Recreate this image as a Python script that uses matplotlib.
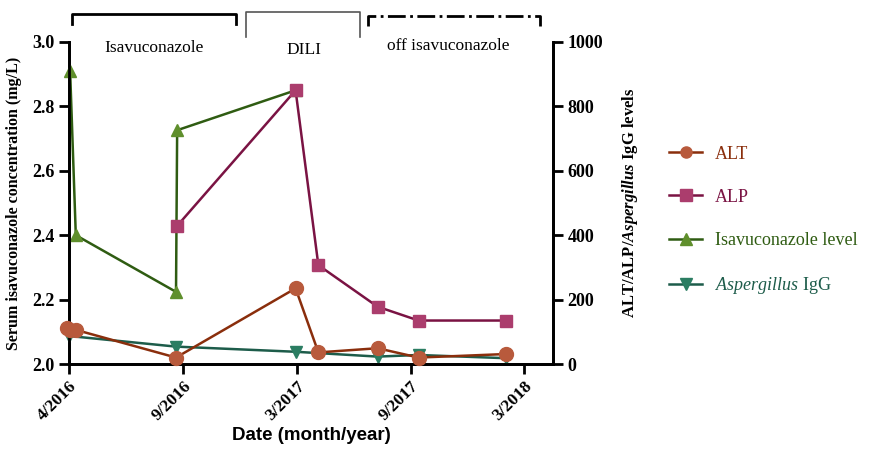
import matplotlib
matplotlib.use("Agg")
import matplotlib.pyplot as plt
import matplotlib.transforms as mtransforms

plt.rcParams["mathtext.fontset"] = "custom"
plt.rcParams["mathtext.rm"] = "Liberation Serif"
plt.rcParams["mathtext.bf"] = "Liberation Serif:bold"
plt.rcParams["mathtext.it"] = "Liberation Serif:italic"
plt.rcParams["mathtext.bfit"] = "Liberation Serif:italic:bold"

# x positions in tick units (0 = 4/2016, 1 = 9/2016, 2 = 3/2017, 3 = 9/2017, 4 = 3/2018)
tick_labels = ["4/2016", "9/2016", "3/2017", "9/2017", "3/2018"]

isa_x = [0.01, 0.06, 0.94, 0.95, 1.99]
isa_y = [2.91, 2.40, 2.224, 2.726, 2.85]

alp_x = [0.95, 1.99, 2.19, 2.71, 3.07, 3.84]
alp_y = [429, 850, 307, 178, 135, 135]

alt_x = [-0.02, 0.01, 0.06, 0.94, 1.99, 2.19, 2.71, 3.07, 3.84]
alt_y = [113, 107, 106, 20, 235, 36, 49, 20, 31]

igg_x = [0.0, 0.94, 1.99, 2.71, 3.07, 3.84]
igg_y = [87, 54, 38, 23, 28, 18]

serif = "Liberation Serif"

fig = plt.figure(figsize=(8.72, 4.49), dpi=100)
ax = fig.add_axes([0.0791, 0.1893, 0.555, 0.7172])
ax2 = ax.twinx()

ax.set_xlim(0, 4.25)
ax.set_ylim(2.0, 3.0)
ax2.set_ylim(0, 1000)

l_isa, = ax.plot(isa_x, isa_y, color="#2f5c12", lw=1.8, marker="^", ms=9,
                 mfc="#5f8f2c", mec="#5f8f2c", clip_on=False, zorder=3)
l_alp, = ax2.plot(alp_x, alp_y, color="#7a1343", lw=1.8, marker="s", ms=9,
                  mfc="#ab3d6d", mec="#ab3d6d", clip_on=False, zorder=3)
l_igg, = ax2.plot(igg_x, igg_y, color="#1d5c4a", lw=1.8, marker="v", ms=9,
                  mfc="#2b7d62", mec="#2b7d62", clip_on=False, zorder=2)
l_alt, = ax2.plot(alt_x, alt_y, color="#8a2e0c", lw=1.8, marker="o", ms=10,
                  mfc="#b85a3c", mec="#b85a3c", clip_on=False, zorder=4)

for a in (ax, ax2):
    a.spines["top"].set_visible(False)
    for s in a.spines.values():
        s.set_linewidth(2)

ax.set_xticks(range(5))
ax.set_xticklabels(tick_labels, rotation=45, ha="right", rotation_mode="anchor",
                   fontfamily=serif, fontweight="bold", fontsize=12.5)
ax.set_yticks([2.0, 2.2, 2.4, 2.6, 2.8, 3.0])
ax.set_yticklabels(["2.0", "2.2", "2.4", "2.6", "2.8", "3.0"],
                   fontfamily=serif, fontweight="bold", fontsize=13)
ax2.set_yticks([0, 200, 400, 600, 800, 1000])
ax2.set_yticklabels(["0", "200", "400", "600", "800", "1000"],
                    fontfamily=serif, fontweight="bold", fontsize=13)
ax.tick_params(width=2, length=7)
ax2.tick_params(width=2, length=7)

ax.set_ylabel("Serum isavuconazole concentration (mg/L)", fontfamily=serif,
              fontweight="bold", fontsize=11.5, labelpad=7)
ax2.set_ylabel(r"ALT/ALP/$\mathbfit{Aspergillus}$ IgG levels", fontfamily=serif,
               fontweight="bold", fontsize=12, labelpad=12)
ax.set_xlabel("Date (month/year)", fontfamily="Liberation Sans",
              fontweight="bold", fontsize=13.5, labelpad=2)

# period brackets above the plot
tr = mtransforms.blended_transform_factory(ax.transData, ax.transAxes)
ax.plot([0.026, 0.026, 1.47, 1.47], [1.056, 1.087, 1.087, 1.056], color="black",
        lw=2, transform=tr, clip_on=False)
ax.plot([1.556, 1.556, 2.558, 2.558], [1.016, 1.093, 1.093, 1.016], color="#555555",
        lw=1.2, transform=tr, clip_on=False)
ax.plot([2.63, 2.63, 4.14, 4.14], [1.05, 1.081, 1.081, 1.05], color="black",
        lw=2, ls="-.", transform=tr, clip_on=False)
ax.text(0.75, 0.981, "Isavuconazole", transform=tr, ha="center", va="center",
        fontfamily=serif, fontsize=12.5)
ax.text(2.06, 0.975, "DILI", transform=tr, ha="center", va="center",
        fontfamily=serif, fontsize=12.5)
ax.text(3.33, 0.988, "off isavuconazole", transform=tr, ha="center", va="center",
        fontfamily=serif, fontsize=12.5)

leg = fig.legend([l_alt, l_alp, l_isa, l_igg],
                 ["ALT", "ALP", "Isavuconazole level", r"$\mathit{Aspergillus}$ IgG"],
                 loc="upper left", bbox_to_anchor=(0.749, 0.712), frameon=False,
                 prop={"family": serif, "size": 13}, labelspacing=1.45,
                 handlelength=1.8, handletextpad=0.7)
for txt, ln in zip(leg.get_texts(), [l_alt, l_alp, l_isa, l_igg]):
    txt.set_color(ln.get_color())
for h in leg.legend_handles:
    h.set_markersize(8)

fig.savefig("out.png", dpi=100)
